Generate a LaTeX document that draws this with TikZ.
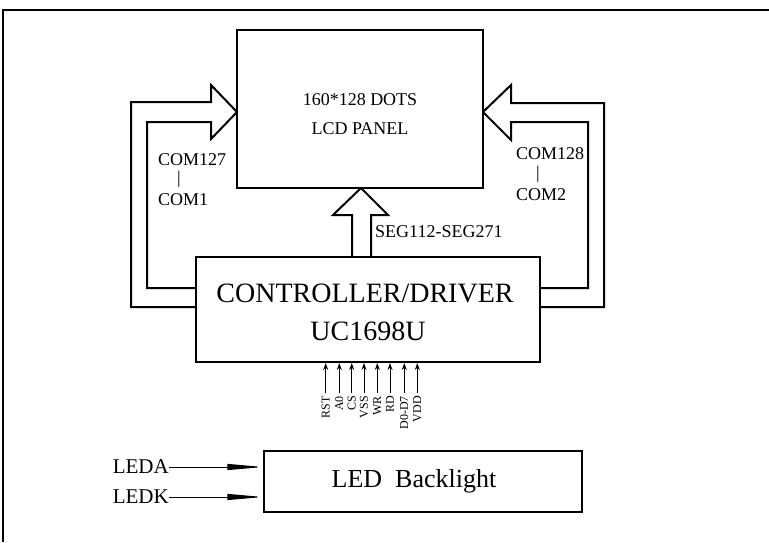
\documentclass[tikz,border=0pt]{standalone}
\usepackage{fontspec}
\setmainfont{Liberation Serif}
\usetikzlibrary{arrows.meta}
\tikzset{
  boxstyle/.style={draw, line width=2pt, inner sep=0pt},
  blockarrow/.style={draw, line width=2pt, line join=miter},
  smalltxt/.style={font=\fontsize{18}{20}\selectfont, inner sep=0pt},
  bigtxt/.style={font=\fontsize{28}{30}\selectfont, inner sep=0pt},
  ledtxt/.style={font=\fontsize{26}{28}\selectfont, inner sep=0pt},
  sidetxt/.style={font=\fontsize{21}{24}\selectfont, inner sep=0pt},
  pintxt/.style={font=\fontsize{12}{13}\selectfont, inner sep=0pt, rotate=90, anchor=east},
  pinarrow/.style={line width=1pt, -{Stealth[length=7pt,width=5pt]}},
  ledarrow/.style={line width=1pt, -{Triangle[length=36pt,width=6pt]}}
}
\begin{document}
\begin{tikzpicture}[x=1pt,y=-1pt]
\useasboundingbox (0,0) rectangle (769,542);
% frame (only top and left visible)
\draw[line width=2.5pt] (3,542) -- (3,10) -- (769,10);

% boxes
\node[boxstyle, minimum width=246pt, minimum height=158pt] (panel) at (360,109) {};
\node[boxstyle, minimum width=344pt, minimum height=105pt] (ctrl) at (368,309.5) {};
\node[draw, line width=1.4pt, inner sep=0pt, minimum width=318pt, minimum height=61pt] (led) at (423,481.5) {};

% texts
\node[smalltxt] (t1) at (360,100) {160*128 DOTS};
\node[smalltxt] (t2) at (360,129) {LCD PANEL};
\node[bigtxt] (t3) at (365,293) {CONTROLLER/DRIVER};
\node[bigtxt] (t4) at (368,331) {UC1698U};
\node[ledtxt] (t5) at (414,481) {LED\ \ Backlight};

\node[smalltxt, anchor=west] (c127) at (158,160) {COM127};
\node[smalltxt] (c127b) at (179,179) {|};
\node[smalltxt, anchor=west] (c1) at (158,200) {COM1};
\node[smalltxt, anchor=west] (c128) at (516,154) {COM128};
\node[smalltxt] (c128b) at (538,174) {|};
\node[smalltxt, anchor=west] (c2) at (516,195) {COM2};
\node[smalltxt, anchor=west] (seg) at (375,232) {SEG112-SEG271};

% block arrows
\draw[blockarrow] (196,307) -- (131,307) -- (131,102) -- (211,102) -- (211,85)
  -- (237,112) -- (211,139) -- (211,122) -- (147,122) -- (147,288) -- (196,288);
\draw[blockarrow] (540,307) -- (604,307) -- (604,103) -- (511,103) -- (511,85)
  -- (483,112) -- (511,140) -- (511,122) -- (588,122) -- (588,288) -- (540,288);
\draw[blockarrow] (352,257) -- (352,215) -- (333,215) -- (361,188) -- (388,215)
  -- (371,215) -- (371,257);

% pins
\foreach \x/\lab/\nm in {325.7/RST/p1, 339.3/A0/p2, 351.7/CS/p3, 364/VSS/p4,
                        377.3/WR/p5, 390/RD/p6, 404.3/D0-D7/p7, 417.3/VDD/p8} {
  \coordinate (\nm) at (\x,393);
  \draw[pinarrow] (\nm) -- (\nm |- ctrl.south);
  \node[pintxt] (\nm t) at (\x,396) {\lab};
}

% LED inputs
\node[sidetxt, anchor=east] (leda) at (169,467) {LEDA};
\node[sidetxt, anchor=east] (ledk) at (169,497) {LEDK};
\draw[ledarrow] (leda.east) -- (leda.east -| led.west);
\draw[ledarrow] (ledk.east) -- (ledk.east -| led.west);
\end{tikzpicture}
\end{document}
